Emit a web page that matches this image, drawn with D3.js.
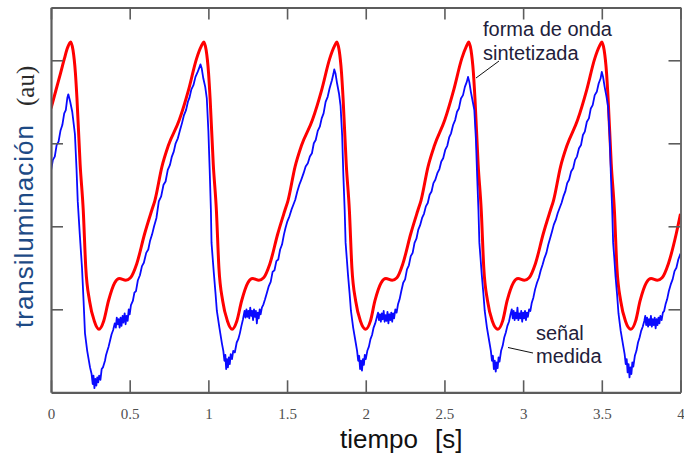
<!DOCTYPE html>
<html><head><meta charset="utf-8">
<script src="https://cdn.jsdelivr.net/npm/d3@7"></script>
<style>
html,body{margin:0;padding:0;background:#fff;}
svg{display:block;}
</style></head>
<body>
<svg id="chart" width="684" height="457"></svg>
<script>
// ---- data ----
const xTicks = [0, 0.5, 1, 1.5, 2, 2.5, 3, 3.5, 4];
const xTickLabels = ["0", "0.5", "1", "1.5", "2", "2.5", "3", "3.5", "4"];
const yTicks = [1, 2, 3, 4];
const xTitle = ["tiempo", "[s]"];
const yTitle = ["transiluminación", "(au)"];
const annotations = [["forma de onda", "sintetizada"], ["señal", "medida"]];

// synthesized waveform (red): [time s, value au]
const redSeries = [
[0,3.42],[0.03,3.63],[0.06,3.84],[0.085,4.02],[0.105,4.15],[0.125,4.22],
[0.14,4.12],[0.155,3.85],[0.165,3.54],[0.185,2.75],[0.205,2.19],[0.221,1.5],[0.245,1.1],[0.275,0.86],[0.305,0.76],[0.335,0.86],[0.365,1.1],[0.405,1.32],[0.435,1.37],[0.475,1.35],[0.505,1.38],[0.545,1.55],[0.595,1.91],[0.64,2.19],[0.66,2.31],[0.705,2.72],[0.745,2.97],[0.815,3.28],[0.875,3.65],[0.925,4.02],[0.955,4.17],
[0.971,4.22],[0.986,4.12],[1.001,3.85],[1.011,3.54],[1.031,2.75],[1.051,2.19],[1.067,1.5],[1.091,1.1],[1.121,0.86],[1.151,0.76],[1.181,0.86],[1.211,1.1],[1.251,1.32],[1.281,1.37],[1.321,1.35],[1.351,1.38],[1.391,1.55],[1.441,1.91],[1.486,2.19],[1.506,2.31],[1.551,2.72],[1.591,2.97],[1.661,3.28],[1.721,3.65],[1.771,4.02],[1.801,4.17],
[1.816,4.22],[1.831,4.12],[1.846,3.85],[1.856,3.54],[1.876,2.75],[1.896,2.19],[1.912,1.5],[1.936,1.1],[1.966,0.86],[2.0,0.76],[2.03,0.86],[2.058,1.1],[2.098,1.32],[2.128,1.37],[2.168,1.35],[2.198,1.38],[2.236,1.55],[2.286,1.91],[2.331,2.19],[2.351,2.31],[2.396,2.72],[2.436,2.97],[2.502,3.28],[2.56,3.65],[2.61,4.02],[2.64,4.17],
[2.654,4.22],[2.669,4.12],[2.684,3.85],[2.694,3.54],[2.714,2.75],[2.734,2.19],[2.75,1.5],[2.774,1.1],[2.804,0.86],[2.84,0.76],[2.87,0.86],[2.898,1.1],[2.938,1.32],[2.968,1.37],[3.008,1.35],[3.038,1.38],[3.078,1.55],[3.128,1.91],[3.173,2.19],[3.193,2.31],[3.238,2.72],[3.278,2.97],[3.346,3.28],[3.405,3.65],[3.455,4.02],[3.485,4.17],
[3.5,4.22],[3.515,4.12],[3.53,3.85],[3.54,3.54],[3.56,2.75],[3.58,2.19],[3.596,1.5],[3.62,1.1],[3.65,0.86],[3.685,0.76],[3.715,0.86],[3.743,1.1],[3.783,1.32],[3.813,1.37],[3.853,1.35],[3.883,1.38],[3.923,1.55],[3.973,1.91],[4.0,2.15]
];

// measured signal (blue): [time s, value au]
const blueSeries = [
[0,2.67],[0.012,2.80],[0.024,2.84],[0.036,2.98],[0.048,3.02],[0.06,3.15],[0.072,3.22],[0.084,3.36],[0.094,3.40],[0.104,3.55],[0.11,3.59],
[0.122,3.5],[0.135,3.38],[0.152,3.11],[0.162,2.7],[0.17,2.3],[0.183,1.9],[0.197,1.5],[0.207,1.1],[0.216,0.71],[0.23,0.5],[0.248,0.3],[0.258,0.22],[0.265,0.1],[0.27,0.2],[0.276,0.05],[0.282,0.16],[0.288,0.08],[0.294,0.18],[0.3,0.12],[0.306,0.2],[0.314,0.15],[0.322,0.28],[0.33,0.3],[0.343,0.38],[0.35,0.45],[0.358,0.5],[0.366,0.55],[0.375,0.62],[0.385,0.7],[0.395,0.75],[0.405,0.83],[0.412,0.78],[0.418,0.9],[0.424,0.82],[0.43,0.88],[0.436,0.78],[0.442,0.9],[0.448,0.8],[0.455,0.92],[0.46,0.84],[0.468,0.95],[0.474,0.82],[0.48,0.92],[0.487,0.86],[0.494,1.0],[0.5,0.94],[0.508,1.05],[0.52,1.1],[0.53,1.2],[0.54,1.22],[0.552,1.35],[0.565,1.41],[0.578,1.52],[0.59,1.56],[0.605,1.68],[0.618,1.72],[0.63,1.83],[0.642,1.9],[0.655,2.0],[0.67,2.1],[0.685,2.3],[0.7,2.36],[0.715,2.5],[0.728,2.54],[0.742,2.68],[0.756,2.74],[0.768,2.84],[0.78,2.9],[0.792,3.0],[0.806,3.06],[0.82,3.16],[0.832,3.24],[0.845,3.34],[0.858,3.4],[0.87,3.5],[0.88,3.55],[0.892,3.65],[0.905,3.7],[0.918,3.8],[0.93,3.85],[0.94,3.9],[0.95,3.95],
[0.958,3.9],[0.968,3.78],[0.98,3.68],[0.99,3.54],[1.0,3.15],[1.008,2.7],[1.016,2.2],[1.02,1.8],[1.028,1.6],[1.035,1.43],[1.045,1.2],[1.054,0.98],[1.07,0.78],[1.086,0.59],[1.095,0.5],[1.102,0.38],[1.108,0.45],[1.113,0.28],[1.118,0.4],[1.124,0.3],[1.13,0.42],[1.136,0.34],[1.142,0.46],[1.15,0.4],[1.158,0.5],[1.168,0.48],[1.18,0.6],[1.19,0.64],[1.2,0.71],[1.21,0.8],[1.22,0.88],[1.23,0.98],[1.236,0.9],[1.242,1.0],[1.248,0.91],[1.254,0.98],[1.26,0.89],[1.266,1.02],[1.272,0.92],[1.278,0.98],[1.284,0.87],[1.29,1.0],[1.296,0.91],[1.302,0.98],[1.308,0.83],[1.314,0.96],[1.32,0.89],[1.326,1.0],[1.332,0.94],[1.34,1.02],[1.35,1.06],[1.36,1.12],[1.372,1.2],[1.384,1.28],[1.396,1.33],[1.408,1.45],[1.42,1.47],[1.432,1.58],[1.444,1.6],[1.456,1.72],[1.468,1.78],[1.48,1.9],[1.49,1.98],[1.502,2.06],[1.515,2.12],[1.528,2.2],[1.54,2.26],[1.552,2.32],[1.565,2.42],[1.578,2.5],[1.59,2.56],[1.605,2.64],[1.618,2.72],[1.632,2.76],[1.645,2.84],[1.658,2.88],[1.67,3.0],[1.682,3.04],[1.695,3.15],[1.708,3.2],[1.72,3.3],[1.732,3.36],[1.745,3.5],[1.758,3.56],[1.77,3.66],[1.785,3.76],[1.795,3.84],[1.8,3.89],
[1.808,3.84],[1.818,3.72],[1.83,3.6],[1.84,3.45],[1.85,3.1],[1.858,2.6],[1.866,2.2],[1.872,1.8],[1.88,1.6],[1.887,1.42],[1.897,1.2],[1.906,0.98],[1.92,0.78],[1.936,0.6],[1.945,0.5],[1.952,0.38],[1.958,0.44],[1.964,0.28],[1.97,0.38],[1.976,0.26],[1.982,0.4],[1.988,0.33],[1.994,0.45],[2.0,0.4],[2.01,0.5],[2.02,0.55],[2.03,0.64],[2.04,0.69],[2.05,0.78],[2.06,0.83],[2.07,0.9],[2.078,0.96],[2.084,0.87],[2.09,0.94],[2.096,0.85],[2.102,0.95],[2.108,0.88],[2.114,0.98],[2.12,0.85],[2.126,0.93],[2.132,0.86],[2.138,0.97],[2.144,0.83],[2.15,0.94],[2.156,0.87],[2.162,0.96],[2.168,0.85],[2.174,0.95],[2.18,0.89],[2.188,1.0],[2.196,0.96],[2.205,1.06],[2.215,1.12],[2.226,1.22],[2.238,1.32],[2.25,1.36],[2.262,1.48],[2.274,1.53],[2.286,1.64],[2.298,1.68],[2.31,1.8],[2.322,1.85],[2.334,1.96],[2.345,2.01],[2.358,2.1],[2.37,2.15],[2.382,2.24],[2.394,2.28],[2.406,2.38],[2.418,2.42],[2.43,2.52],[2.442,2.56],[2.455,2.64],[2.468,2.69],[2.48,2.78],[2.492,2.82],[2.505,2.92],[2.518,2.97],[2.53,3.07],[2.542,3.12],[2.555,3.22],[2.568,3.28],[2.58,3.38],[2.592,3.42],[2.605,3.54],[2.618,3.58],[2.63,3.68],[2.642,3.74],[2.65,3.8],
[2.658,3.74],[2.668,3.62],[2.68,3.5],[2.69,3.4],[2.7,3.05],[2.708,2.6],[2.716,2.2],[2.722,1.8],[2.73,1.6],[2.737,1.42],[2.747,1.2],[2.756,0.98],[2.77,0.78],[2.786,0.6],[2.795,0.5],[2.802,0.38],[2.808,0.44],[2.814,0.28],[2.82,0.38],[2.826,0.25],[2.832,0.36],[2.838,0.29],[2.844,0.42],[2.85,0.37],[2.86,0.5],[2.87,0.56],[2.88,0.66],[2.89,0.72],[2.9,0.8],[2.91,0.85],[2.92,0.94],[2.928,1.0],[2.934,0.89],[2.94,0.98],[2.946,0.87],[2.952,0.96],[2.958,0.89],[2.964,1.02],[2.97,0.87],[2.976,0.95],[2.982,0.89],[2.988,0.98],[2.994,0.85],[3.0,0.96],[3.006,0.89],[3.012,0.98],[3.018,0.87],[3.024,0.96],[3.03,0.91],[3.038,1.0],[3.046,0.98],[3.055,1.08],[3.065,1.14],[3.076,1.24],[3.088,1.32],[3.1,1.38],[3.112,1.47],[3.124,1.54],[3.136,1.62],[3.148,1.68],[3.16,1.78],[3.172,1.86],[3.184,1.94],[3.195,2.02],[3.208,2.08],[3.22,2.16],[3.232,2.22],[3.244,2.28],[3.256,2.36],[3.268,2.42],[3.28,2.52],[3.292,2.56],[3.305,2.66],[3.318,2.7],[3.33,2.8],[3.342,2.84],[3.355,2.94],[3.368,2.98],[3.38,3.1],[3.392,3.14],[3.405,3.26],[3.418,3.3],[3.43,3.42],[3.442,3.46],[3.455,3.58],[3.468,3.62],[3.48,3.72],[3.492,3.78],[3.5,3.86],
[3.508,3.8],[3.518,3.68],[3.53,3.56],[3.54,3.44],[3.55,3.08],[3.558,2.6],[3.566,2.2],[3.572,1.8],[3.58,1.6],[3.587,1.4],[3.597,1.18],[3.606,0.95],[3.62,0.74],[3.636,0.56],[3.645,0.46],[3.652,0.34],[3.658,0.4],[3.664,0.24],[3.67,0.34],[3.676,0.18],[3.682,0.3],[3.688,0.22],[3.694,0.36],[3.7,0.31],[3.71,0.44],[3.72,0.5],[3.73,0.6],[3.74,0.66],[3.75,0.74],[3.76,0.79],[3.77,0.86],[3.776,0.92],[3.782,0.81],[3.788,0.9],[3.794,0.79],[3.8,0.88],[3.806,0.81],[3.812,0.92],[3.818,0.79],[3.824,0.88],[3.83,0.81],[3.836,0.9],[3.842,0.77],[3.848,0.88],[3.854,0.81],[3.86,0.9],[3.866,0.83],[3.872,0.92],[3.88,0.87],[3.888,0.96],[3.896,0.98],[3.905,1.06],[3.915,1.12],[3.926,1.22],[3.938,1.3],[3.95,1.36],[3.962,1.46],[3.974,1.5],[3.986,1.6],[4.0,1.67]
];

// ---- drawing ----
const svg = d3.select("#chart");
const x = d3.scaleLinear().domain([0, 4]).range([51, 680.5]);
const y = d3.scaleLinear().domain([0, 4.636]).range([392.3, 7.5]);
const frameColor = "#5c5c5c";

svg.append("defs").append("clipPath").attr("id", "clip")
  .append("rect").attr("x", x(0)).attr("y", y(4.636))
  .attr("width", x(4) - x(0)).attr("height", y(0) - y(4.636));

const plot = svg.append("g").attr("clip-path", "url(#clip)");
plot.append("path").datum(redSeries)
  .attr("d", d3.line().x(d => x(d[0])).y(d => y(d[1])).curve(d3.curveMonotoneX))
  .attr("fill", "none").attr("stroke", "#ff0000").attr("stroke-width", 3)
  .attr("stroke-linejoin", "round");
plot.append("path").datum(blueSeries)
  .attr("d", d3.line().x(d => x(d[0])).y(d => y(d[1])).curve(d3.curveLinear))
  .attr("fill", "none").attr("stroke", "#0a0aff").attr("stroke-width", 1.8)
  .attr("stroke-linejoin", "round");

// axes (inward ticks)
function styleAxis(g, w) {
  g.select(".domain").attr("stroke", frameColor).attr("stroke-width", w);
  g.selectAll(".tick line").attr("stroke", frameColor).attr("stroke-width", 1.6);
}
const gB = svg.append("g").attr("transform", `translate(0,${y(0)})`)
  .call(d3.axisBottom(x).tickValues(xTicks).tickSize(-12).tickSizeOuter(0)
    .tickPadding(16).tickFormat((d, i) => xTickLabels[i]));
styleAxis(gB, 2.2);
gB.selectAll(".tick text").attr("font-family", "'Liberation Serif', 'Times New Roman', serif")
  .attr("font-size", 15).attr("fill", "#505050").attr("dy", "0.71em");

const gT = svg.append("g").attr("transform", `translate(0,${y(4.636)})`)
  .call(d3.axisTop(x).tickValues(xTicks).tickSize(-12).tickSizeOuter(0).tickFormat(""));
styleAxis(gT, 1.8);
const gL = svg.append("g").attr("transform", `translate(${x(0)},0)`)
  .call(d3.axisLeft(y).tickValues(yTicks).tickSize(-12).tickSizeOuter(0).tickFormat(""));
styleAxis(gL, 2.2);
const gR = svg.append("g").attr("transform", `translate(${x(4)},0)`)
  .call(d3.axisRight(y).tickValues(yTicks).tickSize(-12).tickSizeOuter(0).tickFormat(""));
styleAxis(gR, 1.8);

// axis titles
const sans = "'Liberation Sans', Arial, sans-serif";
svg.append("text").attr("x", 340).attr("y", 448).attr("font-family", sans)
  .attr("font-size", 26).attr("fill", "#111").text(xTitle[0]);
svg.append("text").attr("x", 435).attr("y", 448).attr("font-family", sans)
  .attr("font-size", 26).attr("fill", "#111").text(xTitle[1]);

svg.append("text").attr("transform", "translate(33,328) rotate(-90)")
  .attr("font-family", sans).attr("font-size", 26).attr("letter-spacing", 1)
  .attr("fill", "#1d4a85").text(yTitle[0]);
svg.append("text").attr("transform", "translate(34,106) rotate(-90)")
  .attr("font-family", "'Liberation Serif', 'Times New Roman', serif").attr("font-size", 25)
  .attr("fill", "#2a2a2a").text(yTitle[1]);

// annotations
const annColor = "#22203a";
svg.append("text").attr("x", 483).attr("y", 36).attr("font-family", sans)
  .attr("font-size", 20).attr("fill", annColor).text(annotations[0][0]);
svg.append("text").attr("x", 483).attr("y", 60).attr("font-family", sans)
  .attr("font-size", 20).attr("fill", annColor).text(annotations[0][1]);
svg.append("line").attr("x1", 499).attr("y1", 61).attr("x2", 476).attr("y2", 78)
  .attr("stroke", "#111").attr("stroke-width", 1);

svg.append("text").attr("x", 536).attr("y", 340).attr("font-family", sans)
  .attr("font-size", 20).attr("fill", annColor).text(annotations[1][0]);
svg.append("text").attr("x", 536).attr("y", 363).attr("font-family", sans)
  .attr("font-size", 20).attr("fill", annColor).text(annotations[1][1]);
svg.append("line").attr("x1", 533).attr("y1", 353).attr("x2", 508).attr("y2", 347.5)
  .attr("stroke", "#111").attr("stroke-width", 1);
</script>
</body></html>
